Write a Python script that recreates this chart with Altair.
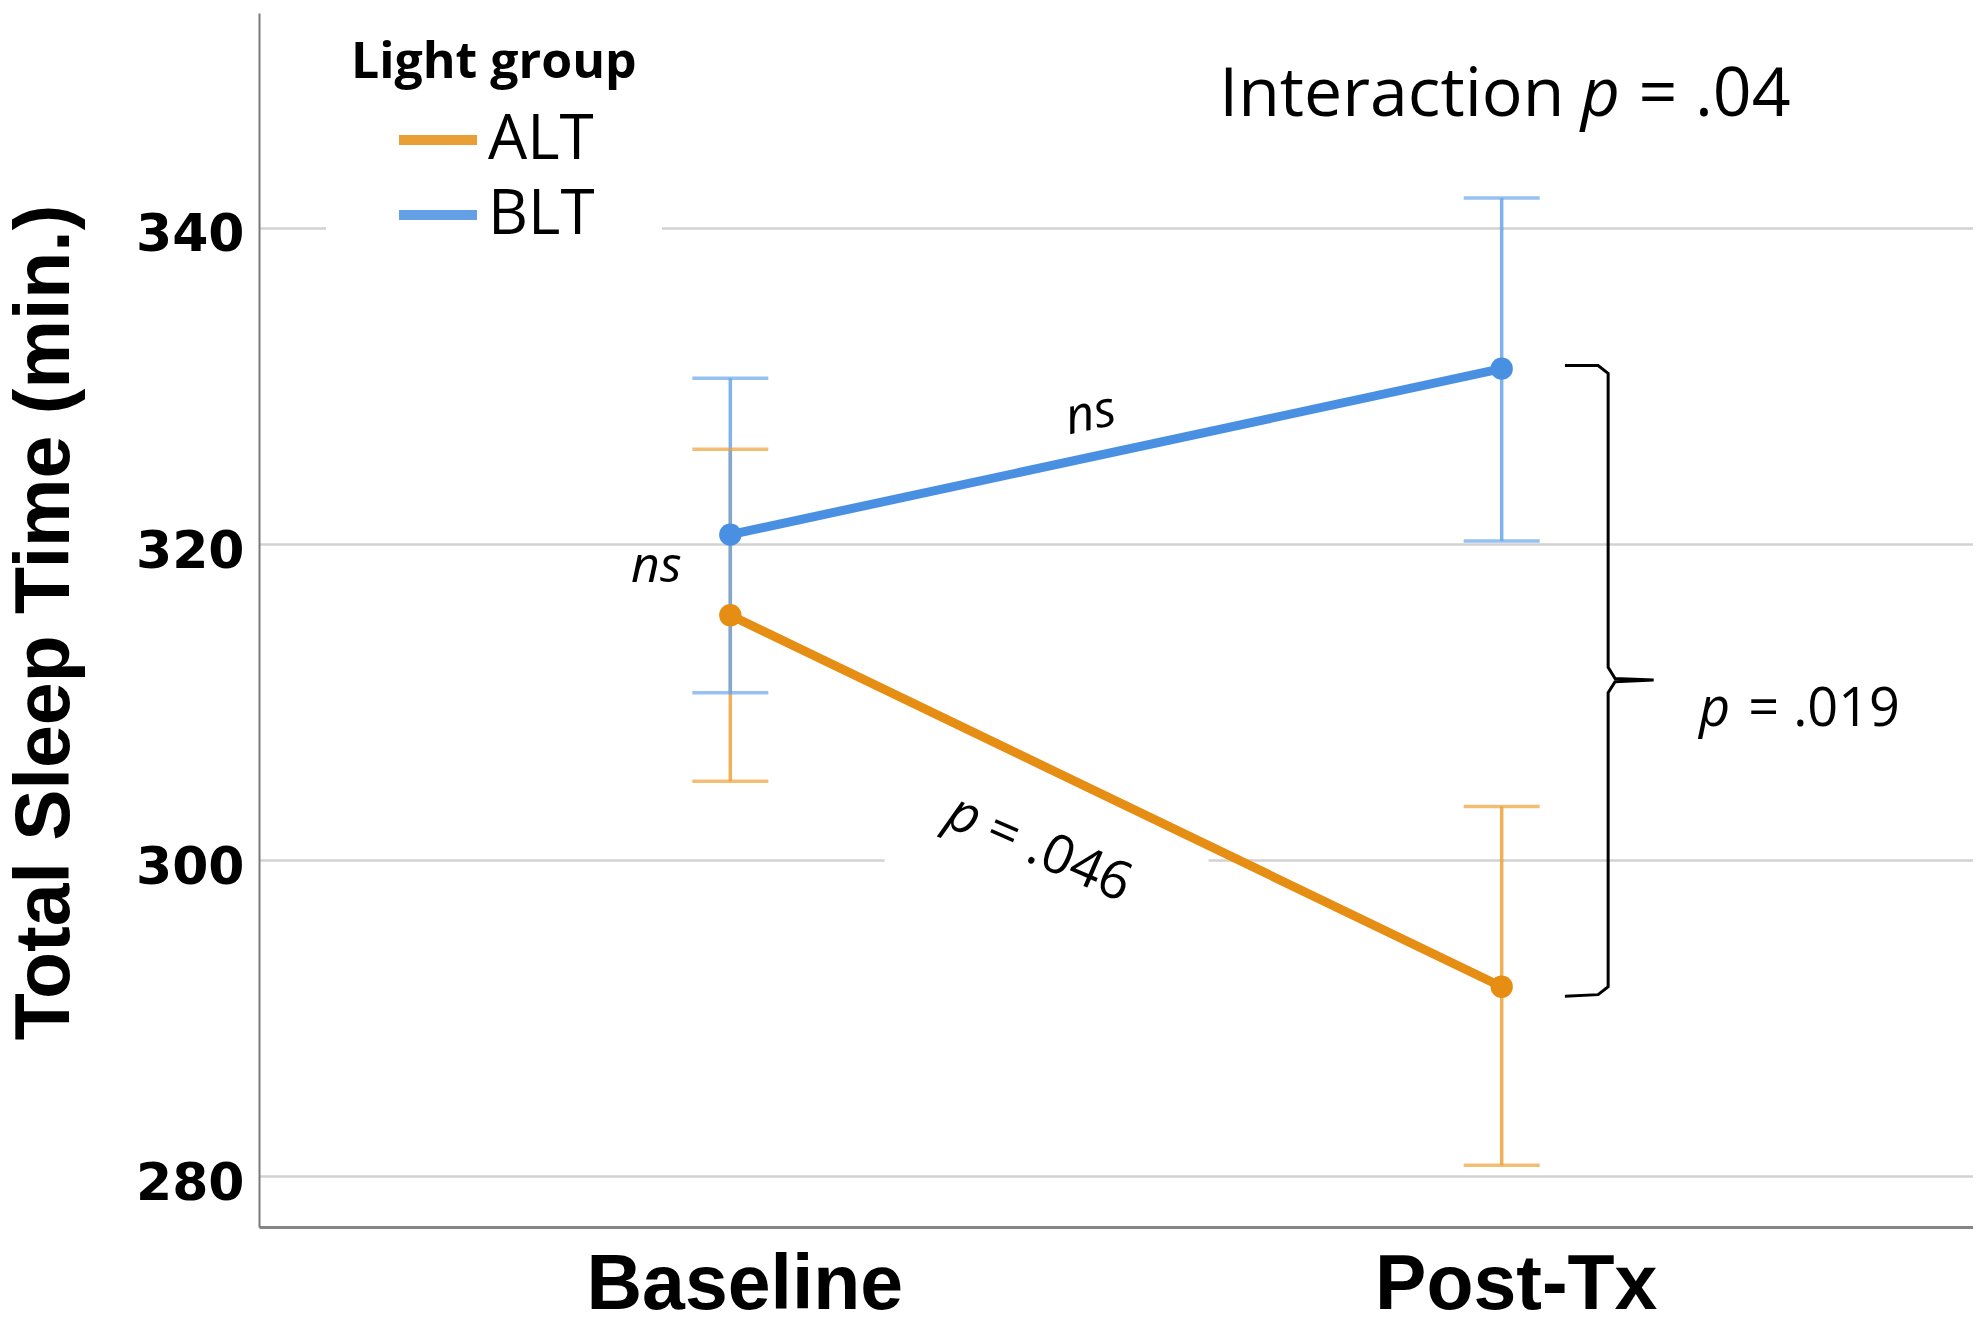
import altair as alt
import pandas as pd

# ---------------- data ----------------
groups = ["ALT", "BLT"]
times = ["Baseline", "Post-Tx"]
time_index = [0, 1]
alt_mean = [315.5, 292.0]
alt_lo = [305.0, 280.7]
alt_hi = [326.0, 303.4]
blt_mean = [320.6, 331.1]
blt_lo = [310.6, 320.2]
blt_hi = [330.5, 341.9]
y_ticks = [280, 300, 320, 340]

# curly bracket joining the two Post-Tx means (data units)
bracket_x = [1.082, 1.125, 1.138, 1.138, 1.147, 1.197, 1.147, 1.138, 1.138, 1.125, 1.082]
bracket_y = [331.3, 331.3, 330.8, 312.2, 311.5, 311.4, 311.3, 310.6, 292.0, 291.5, 291.4]

# ---------------- styles ----------------
line_colors = ["#E68E14", "#4A90E2"]
bar_colors = ["#ECA23C", "#6AA6EA"]
x_domain = [-0.611, 1.611]
y_domain = [276.8, 353.6]

xs = alt.Scale(domain=x_domain, nice=False, zero=False)
ys = alt.Scale(domain=y_domain, nice=False, zero=False)

rows = []
for g, means, los, his, lc, bc in [
    ("ALT", alt_mean, alt_lo, alt_hi, line_colors[0], bar_colors[0]),
    ("BLT", blt_mean, blt_lo, blt_hi, line_colors[1], bar_colors[1]),
]:
    for t, m, lo, hi in zip(time_index, means, los, his):
        rows.append(dict(group=g, t=t, mean=m, lo=lo, hi=hi, lc=lc, bc=bc))
df = pd.DataFrame(rows)

caps = pd.concat([
    df[["t", "lo", "bc", "group"]].rename(columns={"lo": "v"}),
    df[["t", "hi", "bc", "group"]].rename(columns={"hi": "v"}),
])

bracket_df = pd.DataFrame({"x": bracket_x, "y": bracket_y, "o": list(range(len(bracket_x)))})

label_expr = "datum.value == 0 ? '%s' : '%s'" % (times[0], times[1])

x_axis = alt.Axis(values=time_index, labelExpr=label_expr, title=None, grid=False,
                  ticks=False, domainColor="#858585", domainWidth=3,
                  labelFont="Liberation Sans", labelFontWeight="bold",
                  labelFontSize=77, labelColor="black", labelPadding=20,
                  labelOffset=14, labelLimit=0)
y_axis = alt.Axis(values=y_ticks, grid=True, gridColor="#d2d2d2", gridWidth=2.5,
                  ticks=False, domainColor="#7a7a7a", domainWidth=2,
                  labelFont="DejaVu Sans", labelFontWeight="bold", labelFontSize=52,
                  labelColor="black", labelPadding=15, labelOffset=7,
                  title="Total Sleep Time (min.)", titleFont="Liberation Sans",
                  titleFontWeight="bold", titleFontSize=77, titleColor="black",
                  titleAngle=270, titleBaseline="alphabetic", titleAlign="center",
                  titleX=-191, titleY=609, titleLimit=0)


def X(f):
    return alt.X(f, scale=xs, axis=x_axis)


def Y(f):
    return alt.Y(f, scale=ys, axis=y_axis)


# white background patch behind the rotated p-label (covers gridline)
bg_df = pd.DataFrame({"x": [0.20], "x2": [0.62], "y": [299.3], "y2": [300.7]})
bg = alt.Chart(bg_df).mark_rect(color="white").encode(
    x=X("x:Q"), x2="x2:Q", y=Y("y:Q"), y2="y2:Q",
)

err = alt.Chart(df).mark_rule(strokeWidth=3.5, opacity=0.85).encode(
    x=X("t:Q"), y=Y("lo:Q"), y2="hi:Q",
    color=alt.Color("bc:N", scale=None),
)

cap = alt.Chart(caps).mark_tick(orient="horizontal", size=76, thickness=3.5).encode(
    x=X("t:Q"), y=Y("v:Q"),
    color=alt.Color("bc:N", scale=None),
)

lines = alt.Chart(df).mark_line(strokeWidth=9).encode(
    x=X("t:Q"), y=Y("mean:Q"),
    color=alt.Color("group:N", scale=alt.Scale(domain=groups, range=line_colors),
                    legend=alt.Legend(title="Light group", orient="none", legendX=67, legendY=0,
                                      symbolType="stroke", symbolStrokeWidth=10, symbolSize=6084,
                                      symbolOffset=43,
                                      labelFont="Open Sans", labelFontSize=62, labelColor="black",
                                      titleFont="Open Sans", titleFontSize=50, titleFontWeight="bold",
                                      titleColor="black", titleLimit=600, fillColor="white",
                                      padding=25, rowPadding=-18, labelOffset=6, titlePadding=8)),
)

points = alt.Chart(df).mark_circle(size=500, opacity=1).encode(
    x=X("t:Q"), y=Y("mean:Q"),
    color=alt.Color("lc:N", scale=None),
)

bracket = alt.Chart(bracket_df).mark_line(color="black", strokeWidth=3).encode(
    x=X("x:Q"), y=Y("y:Q"), order="o:Q",
)


def txt(x, y, label, **kw):
    d = pd.DataFrame({"x": [x], "y": [y], "label": [label]})
    return alt.Chart(d).mark_text(color="black", **kw).encode(
        x=X("x:Q"), y=Y("y:Q"), text="label:N"
    )


texts = [
    txt(-0.096, 317.6, "ns", font="Open Sans", fontStyle="italic", fontSize=50,
        align="center", baseline="alphabetic"),
    txt(0.467, 328.2, "ns", font="Open Sans", fontStyle="italic", fontSize=50,
        align="center", baseline="middle", angle=348),
    txt(0.320, 301.3, "p", font="Open Sans", fontStyle="italic", fontSize=54,
        align="right", baseline="alphabetic", angle=23.5, dx=-6),
    txt(0.320, 301.3, "= .046", font="Open Sans", fontSize=54,
        align="left", baseline="alphabetic", angle=23.5, dx=6),
    txt(1.308, 308.5, "p", font="Open Sans", fontStyle="italic", fontSize=54,
        align="right", baseline="alphabetic", dx=-9),
    txt(1.308, 308.5, "= .019", font="Open Sans", fontSize=54,
        align="left", baseline="alphabetic", dx=9),
    txt(1.128, 347.1, "Interaction", font="Open Sans", fontSize=68,
        align="right", baseline="alphabetic", dx=-36),
    txt(1.128, 347.1, "p", font="Open Sans", fontStyle="italic", fontSize=68,
        align="center", baseline="alphabetic"),
    txt(1.128, 347.1, "= .04", font="Open Sans", fontSize=68,
        align="left", baseline="alphabetic", dx=38),
]

chart = alt.layer(bg, err, cap, lines, points, bracket, *texts).properties(
    width=1714, height=1214,
    autosize=alt.AutoSizeParams(type="none"),
    padding={"left": 251, "top": 5, "right": 0, "bottom": 90},
    background="white",
).configure_view(strokeWidth=0)

chart.save("out.html", embed_options={"renderer": "svg", "actions": False})
